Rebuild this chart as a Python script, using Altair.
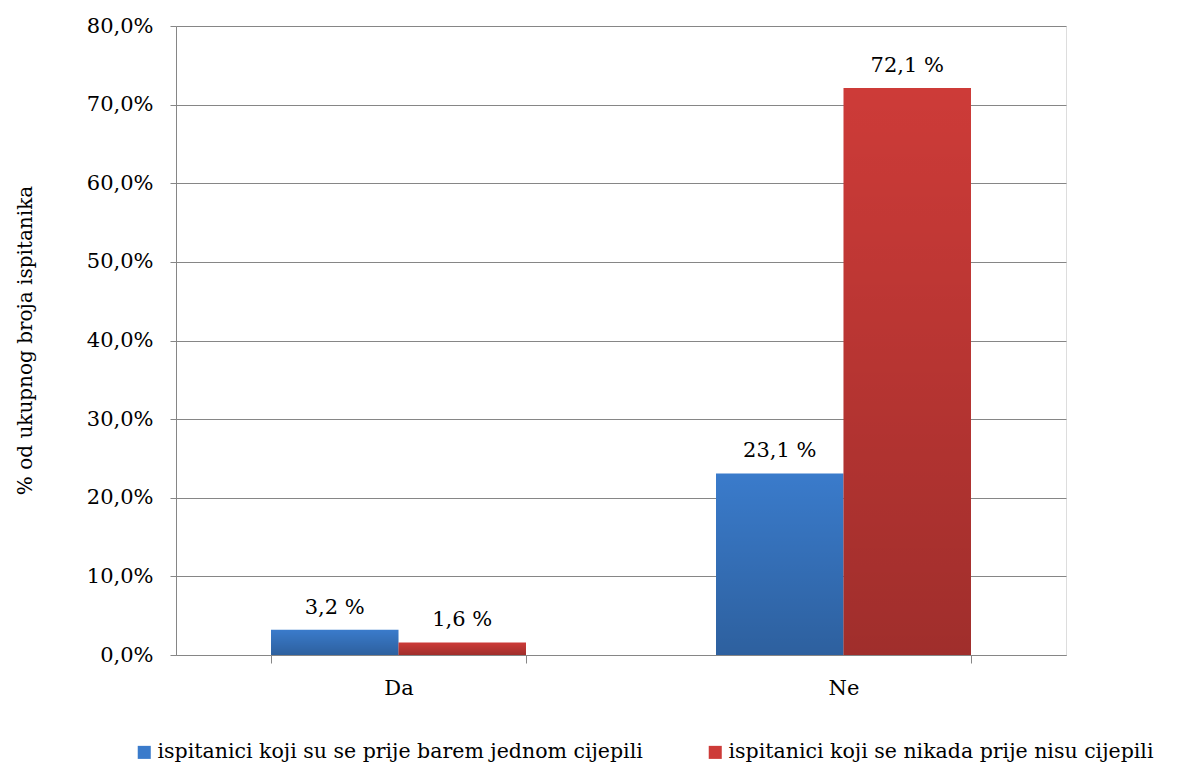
import altair as alt
import pandas as pd

categories = ["Da", "Ne"]
series = ["ispitanici koji su se prije barem jednom cijepili",
          "ispitanici koji se nikada prije nisu cijepili"]
values_s1 = [3.2, 23.1]
values_s2 = [1.6, 72.1]
colors = ["#3A7BCB", "#CD3B38"]

rows = []
for i, c in enumerate(categories):
    rows.append({"cat": c, "series": series[0], "v": values_s1[i]})
    rows.append({"cat": c, "series": series[1], "v": values_s2[i]})
df = pd.DataFrame(rows)

FONT = "DejaVu Serif"

x = alt.X("cat:N", sort=categories, title=None,
          scale=alt.Scale(paddingInner=0.427, paddingOuter=0.2135),
          axis=alt.Axis(labelFont=FONT, labelFontSize=21, labelColor="black",
                        labelAngle=0, tickBand="extent", tickSize=8,
                        tickColor="#868686", domainColor="#868686",
                        labelPadding=14, grid=False))
y = alt.Y("v:Q", title="% od ukupnog broja ispitanika",
          scale=alt.Scale(domain=[0, 80], nice=False),
          axis=alt.Axis(values=list(range(0, 81, 10)),
                        labelExpr="replace(format(datum.value, '.1f'), '.', ',') + '%'",
                        labelFont=FONT, labelFontSize=21, labelColor="black",
                        labelPadding=17, tickSize=6, tickColor="#868686",
                        domainColor="#868686", gridColor="#868686",
                        titleFont=FONT, titleFontSize=20, titleFontWeight="normal",
                        titleColor="black", titleX=-151, titleY=314,
                        titleAlign="center", titleBaseline="middle"))
xo = alt.XOffset("series:N", sort=series)

base = alt.Chart(df)

bars = base.mark_bar().encode(
    x=x, y=y, xOffset=xo,
    color=alt.Color("series:N", sort=series,
                    scale=alt.Scale(domain=series, range=colors),
                    legend=alt.Legend(title=None, orient="none", direction="horizontal",
                                      legendX=-42, legendY=716,
                                      labelFont=FONT, labelFontSize=20.5,
                                      labelColor="black", symbolType="square",
                                      symbolSize=170, symbolStrokeWidth=0,
                                      labelOffset=3, columnPadding=62,
                                      labelLimit=700)),
)

shade = base.mark_bar(
    color=alt.Gradient(gradient="linear", x1=0, y1=0, x2=0, y2=1,
                       stops=[alt.GradientStop(offset=0, color="rgba(0,0,0,0)"),
                              alt.GradientStop(offset=1, color="rgba(0,0,0,0.22)")])
).encode(x=x, y=y, xOffset=xo)

labels = base.mark_text(font=FONT, fontSize=21, color="black", dy=-22).encode(
    x=x, y=y, xOffset=xo,
    text=alt.Text("lab:N"),
).transform_calculate(lab="replace(format(datum.v, '.1f'), '.', ',') + ' %'")

chart = alt.layer(bars, shade, labels).properties(
    width=890, height=629,
    autosize=alt.AutoSizeParams(type="none"),
    padding={"left": 168, "top": 18, "right": 105, "bottom": 113},
).configure_view(stroke=None).configure(background="white", font=FONT)

chart.save("out.html", embed_options={"renderer": "svg", "actions": False})
